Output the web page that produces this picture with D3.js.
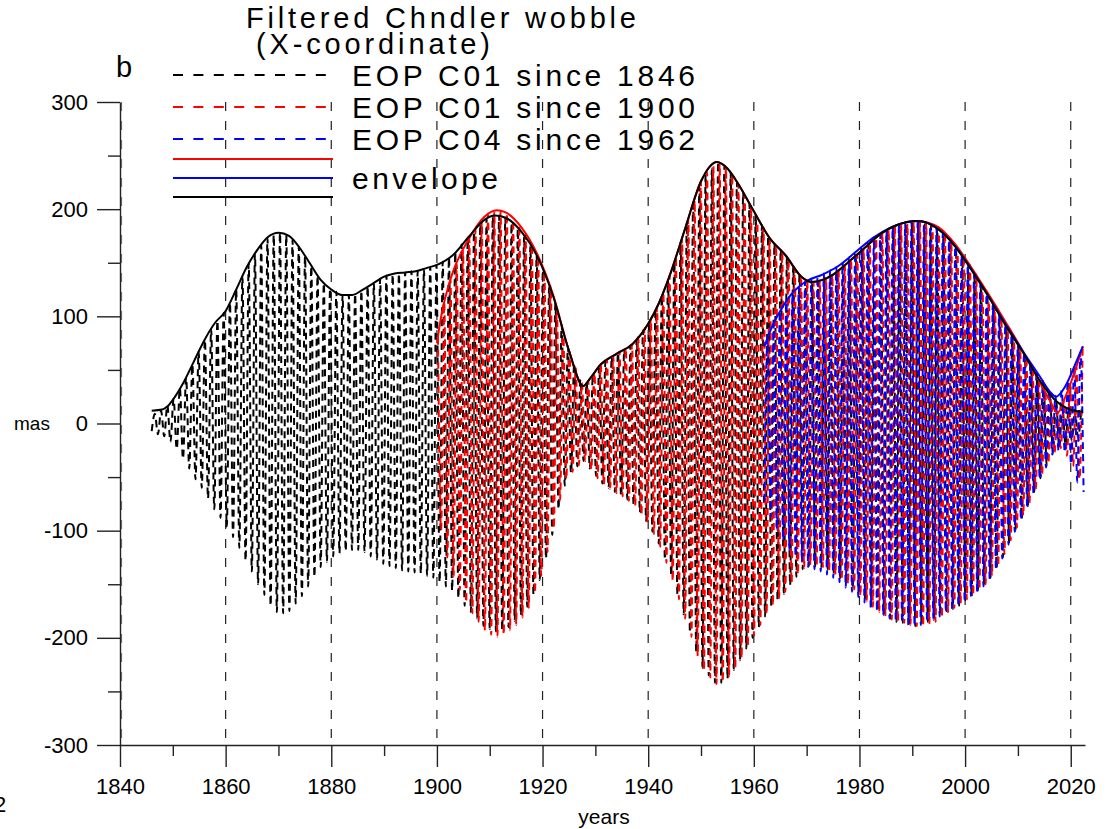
<!DOCTYPE html>
<html>
<head>
<meta charset="utf-8">
<script src="https://cdn.jsdelivr.net/npm/d3@7"></script>
<style>
body { margin: 0; background: #fff; }
text { font-family: 'Liberation Sans', Arial, sans-serif; fill: #000; }
</style>
</head>
<body>
<div id="chart"></div>
<script>
var width = 1111;
var height = 829;

var margin = {
    top: 102,
    right: 26,
    bottom: 84,
    left: 120
};

var chartWidth = width - margin.left - margin.right;
var chartHeight = height - margin.top - margin.bottom;

// filtered wobble, one value per half Chandler period (extrema), mas
var halfPeriod = 0.5925;
var start1846 = 1846.0;
var start1900 = 1900.2;
var start1962 = 1962.0;

var c01since1846 = [
    -7, 9, -10, 12, -12, 17, -17, 23, -24, 33,
    -33, 43, -42, 55, -52, 67, -60, 78, -70, 88,
    -80, 96, -88, 103, -96, 113, -106, 125, -116, 137,
    -128, 149, -138, 158, -150, 166, -160, 173, -170, 176,
    -176, 178, -177, 176, -175, 171, -168, 165, -161, 156,
    -152, 147, -143, 138, -134, 131, -129, 126, -124, 123,
    -121, 120, -119, 120, -118, 121, -118, 124, -120, 128,
    -124, 131, -127, 135, -131, 138, -133, 139, -135, 140,
    -137, 141, -138, 142, -139, 142, -140, 144, -142, 146,
    -144, 148, -148, 151, -152, 155, -156, 160, -163, 167,
    -170, 173, -176, 179, -182, 186, -189, 191, -192, 193,
    -194, 194, -193, 192, -190, 187, -184, 182, -179, 175,
    -171, 166, -160, 157, -146, 143, -126, 128, -104, 112,
    -80, 92, -58, 72, -46, 56, -40, 41, -35, 38,
    -42, 46, -49, 53, -56, 58, -60, 62, -64, 66,
    -68, 69, -71, 73, -76, 79, -83, 87, -91, 95,
    -101, 106, -112, 119, -127, 134, -142, 151, -160, 169,
    -178, 187, -195, 204, -213, 221, -228, 232, -235, 238,
    -242, 244, -242, 240, -238, 234, -230, 225, -221, 216,
    -210, 205, -200, 195, -190, 185, -180, 175, -171, 168,
    -165, 162, -159, 155, -151, 147, -143, 139, -136, 134,
    -133, 132, -133, 133, -134, 135, -136, 138, -140, 142,
    -144, 147, -149, 151, -154, 157, -159, 162, -164, 167,
    -170, 172, -175, 177, -179, 180, -182, 184, -185, 186,
    -186, 187, -187, 188, -189, 189, -188, 186, -185, 184,
    -183, 182, -179, 176, -176, 170, -173, 164, -170, 156,
    -165, 149, -161, 139, -156, 129, -151, 120, -144, 110,
    -135, 101, -125, 91, -112, 81, -100, 73, -89, 63,
    -77, 53, -64, 44, -51, 35, -39, 28, -28, 21,
    -23, 17, -20, 14, -16, 13, -13, 11
];

var c01since1900 = [
    80, -99, 113, -125, 134, -143, 149, -155, 161, -167,
    173, -177, 181, -185, 189, -193, 195, -197, 198, -199,
    198, -197, 196, -193, 190, -188, 185, -181, 176, -172,
    167, -158, 156, -142, 143, -120, 128, -98, 107, -72,
    87, -52, 67, -45, 52, -39, 38, -35, 40, -43,
    47, -51, 55, -57, 59, -61, 63, -65, 67, -68,
    70, -72, 74, -77, 81, -85, 89, -92, 98, -103,
    109, -115, 123, -130, 138, -147, 156, -164, 173, -182,
    191, -199, 208, -217, 226, -230, 234, -237, 240, -243,
    243, -241, 239, -236, 232, -228, 223, -219, 213, -208,
    203, -198, 193, -188, 183, -178, 173, -170, 166, -163,
    160, -157, 153, -149, 145, -141, 138, -135, 133, -132,
    132, -133, 133, -134, 136, -137, 139, -141, 143, -146,
    148, -150, 153, -155, 158, -161, 163, -166, 168, -171,
    173, -176, 178, -179, 181, -183, 184, -185, 186, -186,
    187, -188, 188, -189, 189, -189, 188, -187, 186, -185,
    183, -181, 178, -176, 172, -172, 164, -168, 156, -164,
    148, -160, 139, -155, 129, -150, 120, -142, 110, -133,
    100, -122, 91, -109, 82, -97, 72, -86, 62, -74,
    50, -61, 40, -48, 30, -37, 19, -27, 11, -23,
    22, -30, 37, -40, 53, -52, 71
];

var c04since1962 = [
    -72, 79, -87, 93, -99, 105, -109, 114, -118, 121,
    -124, 127, -129, 132, -134, 135, -136, 137, -138, 140,
    -141, 143, -144, 146, -148, 150, -153, 155, -157, 160,
    -162, 164, -167, 169, -172, 174, -175, 177, -179, 180,
    -182, 183, -184, 185, -186, 187, -188, 188, -189, 189,
    -188, 186, -185, 184, -183, 182, -180, 177, -176, 171,
    -173, 165, -170, 157, -166, 148, -161, 139, -157, 130,
    -152, 121, -145, 112, -136, 102, -126, 93, -113, 84,
    -101, 75, -90, 66, -78, 57, -65, 49, -52, 40,
    -41, 31, -29, 26, -25, 31, -27, 40, -38, 53,
    -55, 67, -64
];

// envelopes
var envYears1846 = [1846, 1848, 1849, 1850, 1852, 1854, 1856, 1858, 1860, 1862, 1864, 1866, 1868, 1870,
    1872, 1874, 1876, 1878, 1880, 1882, 1884, 1886, 1888, 1890, 1892, 1894, 1896, 1898, 1900,
    1903, 1906, 1909, 1911, 1913, 1916, 1919, 1922, 1925, 1927.7, 1929, 1931, 1934, 1937, 1940,
    1942, 1944, 1947, 1950, 1953, 1955, 1957, 1960, 1963, 1966, 1969, 1971, 1973, 1975, 1978,
    1981, 1984, 1987, 1991, 1995, 1998, 2001, 2004, 2008, 2011, 2014, 2017, 2019, 2020.5, 2022.3];
var envelope1846 = [12, 13, 16, 22, 38, 58, 78, 94, 105, 125, 146, 162, 174, 178,
    175, 164, 149, 134, 125, 120, 120, 125, 131, 137, 140, 141, 142, 145, 148,
    157, 174, 190, 194, 192, 179, 156, 119, 68, 35, 42, 55, 65, 74, 93,
    112, 137, 182, 226, 244, 238, 224, 198, 173, 157, 137, 132, 134, 139, 151,
    164, 177, 185, 189, 181, 166, 145, 122, 89, 66, 41, 22, 15, 12, 11];

var envYears1900 = [1900, 1901, 1902, 1903, 1906, 1909, 1911.3, 1913, 1916, 1919, 1922, 1925, 1927.7,
    1929, 1931, 1934, 1937, 1940, 1942, 1944, 1947, 1950, 1953, 1955, 1957, 1960, 1963, 1966,
    1969, 1971, 1973, 1975, 1978, 1981, 1984, 1987, 1991, 1995, 1998, 2001, 2004, 2008, 2011,
    2014, 2016, 2017.5, 2019, 2021, 2022.3];
var envelope1900 = [75, 105, 125, 141, 172, 193, 199, 197, 183, 158, 120, 68, 35,
    42, 55, 65, 74, 93, 112, 137, 182, 226, 244, 238, 224, 198, 173, 157,
    137, 132, 134, 139, 151, 164, 177, 185, 189, 183, 168, 147, 124, 92, 67,
    40, 22, 10, 25, 52, 72];

var envYears1962 = [1962, 1963.5, 1965, 1967, 1970, 1973, 1976, 1979.5, 1982.5, 1986, 1989, 1991,
    1995, 1998, 2001, 2004, 2008, 2011, 2014, 2016, 2017.2, 2019, 2021, 2022.3];
var envelope1962 = [72, 91, 105, 120, 133, 139, 147, 161, 173, 183, 188, 189,
    181, 166, 145, 122, 90, 67, 45, 30, 25, 35, 57, 72];

var xTicks = [1840, 1860, 1880, 1900, 1920, 1940, 1960, 1980, 2000, 2020];
var xMinorTicks = [1850, 1870, 1890, 1910, 1930, 1950, 1970, 1990, 2010];
var yTicks = [-300, -200, -100, 0, 100, 200, 300];
var yMinorTicks = [-250, -150, -50, 50, 150, 250];


var svg = d3.select('#chart').append('svg')
    .attr('width', width)
    .attr('height', height);

var chart = svg.append('g')
    .attr('transform', `translate(${margin.left}, ${margin.top})`);

var xScale = d3.scaleLinear()
    .domain([1840, 2022.7])
    .range([0, chartWidth]);

var yScale = d3.scaleLinear()
    .domain([-300, 300])
    .range([chartHeight, 0]);

// dashed vertical grid
chart.selectAll('.grid')
    .data(xTicks)
    .enter()
    .append('line')
    .attr('class', 'grid')
    .attr('x1', d => xScale(d) + (d === 1840 ? 1.5 : 0))
    .attr('x2', d => xScale(d) + (d === 1840 ? 1.5 : 0))
    .attr('y1', yScale(300))
    .attr('y2', yScale(-300))
    .attr('stroke', d => d === 1840 ? '#777' : '#222')
    .attr('stroke-width', 1.2)
    .attr('stroke-dasharray', '9,10');

function wobbleLine(start) {
    return d3.line()
        .x((d, i) => xScale(start + i * halfPeriod))
        .y(d => yScale(d))
        .curve(d3.curveMonotoneX);
}

var envLine = d3.line()
    .x(d => xScale(d[0]))
    .y(d => yScale(d[1]))
    .curve(d3.curveMonotoneX);

var wobbles = [
    {values: c01since1846, start: start1846, color: '#000000'},
    {values: c01since1900, start: start1900, color: '#ff0000'},
    {values: c04since1962, start: start1962, color: '#0000ff'}
];

wobbles.forEach(function (s) {
    chart.append('path')
        .datum(s.values)
        .attr('d', wobbleLine(s.start))
        .attr('fill', 'none')
        .attr('stroke', s.color)
        .attr('stroke-width', 2)
        .attr('stroke-dasharray', '7,5');
});

var envelopes = [
    {years: envYears1900, values: envelope1900, color: '#ff0000'},
    {years: envYears1962, values: envelope1962, color: '#0000ff'},
    {years: envYears1846, values: envelope1846, color: '#000000'}
];

envelopes.forEach(function (s) {
    chart.append('path')
        .datum(s.years.map((yr, i) => [yr, s.values[i]]))
        .attr('d', envLine)
        .attr('fill', 'none')
        .attr('stroke', s.color)
        .attr('stroke-width', 2);
});

// axes
var leftMinor = chart.append('g')
    .call(d3.axisLeft(yScale).tickValues(yMinorTicks).tickSize(12).tickSizeOuter(0).tickFormat(''));
leftMinor.select('.domain').remove();

var yAxis_g = chart.append('g')
    .call(d3.axisLeft(yScale).tickValues(yTicks).tickSize(23).tickSizeOuter(0).tickPadding(9)
        .tickFormat(d => String(d)));

var bottomMinor = chart.append('g')
    .attr('transform', `translate(0, ${chartHeight})`)
    .call(d3.axisBottom(xScale).tickValues(xMinorTicks).tickSize(11).tickSizeOuter(0).tickFormat(''));
bottomMinor.select('.domain').remove();

var xAxis_g = chart.append('g')
    .attr('transform', `translate(0, ${chartHeight})`)
    .call(d3.axisBottom(xScale).tickValues(xTicks).tickSize(22).tickSizeOuter(0).tickPadding(11)
        .tickFormat(d => String(d)));

chart.selectAll('.domain, .tick line')
    .attr('stroke', '#222')
    .attr('stroke-width', 1.4);

yAxis_g.selectAll('text')
    .style('font-size', '22px')
    .style('font-family', "'Liberation Sans', Arial, sans-serif");

xAxis_g.selectAll('text')
    .style('font-size', '22px')
    .style('font-family', "'Liberation Sans', Arial, sans-serif");

// axis titles
svg.append('text')
    .attr('x', 14)
    .attr('y', 430)
    .style('font-size', '19px')
    .text('mas');

svg.append('text')
    .attr('x', 604)
    .attr('y', 824)
    .attr('text-anchor', 'middle')
    .style('font-size', '21px')
    .text('years');

svg.append('text')
    .attr('x', -6)
    .attr('y', 812)
    .style('font-size', '22px')
    .text('2');

// titles
svg.append('text')
    .attr('x', 246)
    .attr('y', 28)
    .attr('textLength', 390)
    .attr('lengthAdjust', 'spacing')
    .style('font-size', '29px')
    .text('Filtered Chndler wobble');

svg.append('text')
    .attr('x', 256)
    .attr('y', 54)
    .attr('textLength', 234)
    .attr('lengthAdjust', 'spacing')
    .style('font-size', '29px')
    .text('(X-coordinate)');

svg.append('text')
    .attr('x', 116)
    .attr('y', 77)
    .style('font-size', '29px')
    .text('b');

// legend
var legendRows = [
    {y: 75, color: '#000000', dash: '10,10.4', label: 'EOP C01 since 1846', end: 327},
    {y: 107, color: '#ff0000', dash: '10,10.4', label: 'EOP C01 since 1900', end: 327},
    {y: 139, color: '#0000ff', dash: '10,10.4', label: 'EOP C04 since 1962', end: 327},
    {y: 159, color: '#ff0000', dash: null, label: '', end: 333},
    {y: 178, color: '#0000ff', dash: null, label: 'envelope', end: 333},
    {y: 197, color: '#000000', dash: null, label: '', end: 333}
];

var legend = svg.append('g');

legendRows.forEach(function (r) {
    legend.append('line')
        .attr('x1', 173)
        .attr('x2', r.end)
        .attr('y1', r.y)
        .attr('y2', r.y)
        .attr('stroke', r.color)
        .attr('stroke-width', 2)
        .attr('stroke-dasharray', r.dash);

    if (r.label) {
        legend.append('text')
            .attr('x', 352)
            .attr('y', r.y + 11)
            .attr('textLength', r.label === 'envelope' ? 146 : 343)
            .attr('lengthAdjust', 'spacing')
            .style('font-size', '30px')
            .text(r.label);
    }
});
</script>
</body>
</html>
